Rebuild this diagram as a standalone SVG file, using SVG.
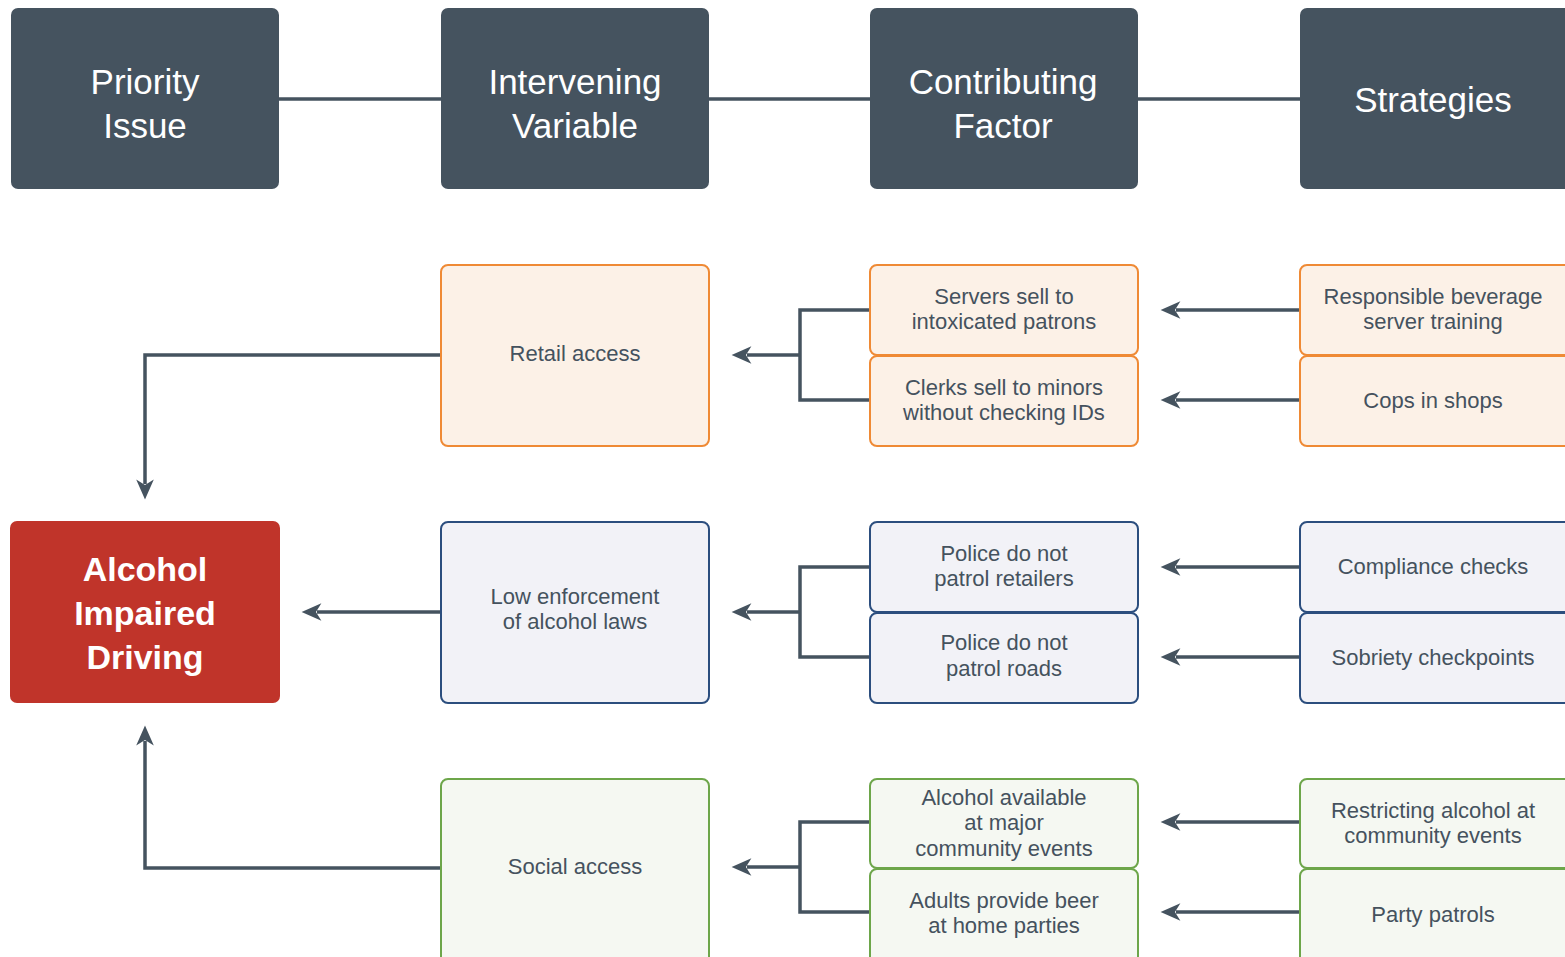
<svg xmlns="http://www.w3.org/2000/svg" width="1565" height="957" viewBox="0 0 1565 957">
<defs>
<marker id="arr" markerUnits="userSpaceOnUse" markerWidth="22" markerHeight="22" viewBox="0 0 20 20" refX="5" refY="10" orient="auto">
<path d="M1,2 L19,10 L1,18 L6,10 z" fill="#45535f"/>
</marker>
<style>
.hd{fill:#45535f}
.ht{font-family:"Liberation Sans",Arial,sans-serif;font-size:35px;fill:#ffffff;text-anchor:middle}
.or{fill:#fcf1e7;stroke:#ef8a35;stroke-width:2}
.bl{fill:#f2f2f7;stroke:#2c4e7e;stroke-width:2}
.gr{fill:#f5f8f2;stroke:#6da64a;stroke-width:2}
.t{font-family:"Liberation Sans",Arial,sans-serif;font-size:22px;fill:#45525e;text-anchor:middle}
.b{font-family:"Liberation Sans",Arial,sans-serif;font-size:34px;font-weight:bold;fill:#ffffff;text-anchor:middle}
.c{fill:none;stroke:#45535f;stroke-width:3.5}
.ca{fill:none;stroke:#45535f;stroke-width:3.5;marker-end:url(#arr)}
</style>
</defs>
<rect width="1565" height="957" fill="#ffffff"/>
<g id="connectors">
<path class="c" d="M279,99 H441 M709,99 H870 M1138,99 H1300"/>
<path class="ca" d="M441,355 H145 V484"/>
<path class="ca" d="M441,612 H317"/>
<path class="ca" d="M441,868 H145 V741"/>
<path class="c" d="M870,310 H800 V400 H870"/>
<path class="ca" d="M800,355 H747"/>
<path class="c" d="M870,567 H800 V657 H870"/>
<path class="ca" d="M800,612 H747"/>
<path class="c" d="M870,822 H800 V912 H870"/>
<path class="ca" d="M800,867 H747"/>
<path class="ca" d="M1300,310 H1176"/>
<path class="ca" d="M1300,400 H1176"/>
<path class="ca" d="M1300,567 H1176"/>
<path class="ca" d="M1300,657 H1176"/>
<path class="ca" d="M1300,822 H1176"/>
<path class="ca" d="M1300,912 H1176"/>
</g>
<g id="h-priority"><rect class="hd" x="11" y="8" width="268" height="181" rx="7"/><text class="ht" x="145" y="94">Priority<tspan x="145" dy="44">Issue</tspan></text></g>
<g id="h-intervening"><rect class="hd" x="441" y="8" width="268" height="181" rx="7"/><text class="ht" x="575" y="94">Intervening<tspan x="575" dy="44">Variable</tspan></text></g>
<g id="h-contributing"><rect class="hd" x="870" y="8" width="268" height="181" rx="7"/><text class="ht" x="1003" y="94">Contributing<tspan x="1003" dy="44">Factor</tspan></text></g>
<g id="h-strategies"><rect class="hd" x="1300" y="8" width="280" height="181" rx="7"/><text class="ht" x="1433" y="112">Strategies</text></g>

<g id="n-aid"><rect x="10" y="521" width="270" height="182" rx="7" fill="#c0342a"/>
<text class="b" x="145" y="581">Alcohol<tspan x="145" dy="44">Impaired</tspan><tspan x="145" dy="44">Driving</tspan></text></g>

<g id="n-retail"><rect class="or" x="441" y="265" width="268" height="181" rx="7"/><text class="t" x="575" y="361">Retail access</text></g>
<g id="n-servers"><rect class="or" x="870" y="265" width="268" height="90" rx="7"/><text class="t" x="1004" y="304">Servers sell to<tspan x="1004" dy="25">intoxicated patrons</tspan></text></g>
<g id="n-clerks"><rect class="or" x="870" y="356" width="268" height="90" rx="7"/><text class="t" x="1004" y="395">Clerks sell to minors<tspan x="1004" dy="25">without checking IDs</tspan></text></g>
<g id="n-rbst"><rect class="or" x="1300" y="265" width="280" height="90" rx="7"/><text class="t" x="1433" y="304">Responsible beverage<tspan x="1433" dy="25">server training</tspan></text></g>
<g id="n-cops"><rect class="or" x="1300" y="356" width="280" height="90" rx="7"/><text class="t" x="1433" y="408">Cops in shops</text></g>

<g id="n-low"><rect class="bl" x="441" y="522" width="268" height="181" rx="7"/><text class="t" x="575" y="604">Low enforcement<tspan x="575" dy="25">of alcohol laws</tspan></text></g>
<g id="n-pret"><rect class="bl" x="870" y="522" width="268" height="90" rx="7"/><text class="t" x="1004" y="561">Police do not<tspan x="1004" dy="25">patrol retailers</tspan></text></g>
<g id="n-proad"><rect class="bl" x="870" y="613" width="268" height="90" rx="7"/><text class="t" x="1004" y="650">Police do not<tspan x="1004" dy="26">patrol roads</tspan></text></g>
<g id="n-comp"><rect class="bl" x="1300" y="522" width="280" height="90" rx="7"/><text class="t" x="1433" y="574">Compliance checks</text></g>
<g id="n-sob"><rect class="bl" x="1300" y="613" width="280" height="90" rx="7"/><text class="t" x="1433" y="665">Sobriety checkpoints</text></g>

<g id="n-social"><rect class="gr" x="441" y="779" width="268" height="190" rx="7"/><text class="t" x="575" y="874">Social access</text></g>
<g id="n-avail"><rect class="gr" x="870" y="779" width="268" height="89" rx="7"/><text class="t" x="1004" y="805">Alcohol available<tspan x="1004" dy="25">at major</tspan><tspan x="1004" dy="26">community events</tspan></text></g>
<g id="n-adults"><rect class="gr" x="870" y="869" width="268" height="100" rx="7"/><text class="t" x="1004" y="908">Adults provide beer<tspan x="1004" dy="25">at home parties</tspan></text></g>
<g id="n-restrict"><rect class="gr" x="1300" y="779" width="280" height="89" rx="7"/><text class="t" x="1433" y="818">Restricting alcohol at<tspan x="1433" dy="25">community events</tspan></text></g>
<g id="n-party"><rect class="gr" x="1300" y="869" width="280" height="100" rx="7"/><text class="t" x="1433" y="922">Party patrols</text></g>
</svg>
